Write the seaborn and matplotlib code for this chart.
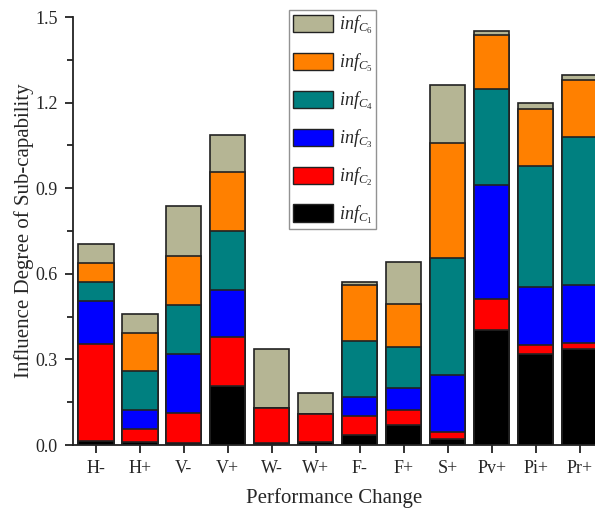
import numpy as np
import pandas as pd
import matplotlib
matplotlib.use("Agg")
import matplotlib.pyplot as plt
import seaborn as sns
from matplotlib.patches import Patch
from matplotlib.ticker import MultipleLocator

# --- DATA ---
categories = ["H-", "H+", "V-", "V+", "W-", "W+", "F-", "F+", "S+", "Pv+", "Pi+", "Pr+"]
inf_c1 = [0.015, 0.011, 0.006, 0.208, 0.006, 0.009, 0.034, 0.071, 0.022, 0.402, 0.320, 0.338]
inf_c2 = [0.340, 0.044, 0.105, 0.171, 0.123, 0.099, 0.068, 0.052, 0.023, 0.108, 0.030, 0.019]
inf_c3 = [0.150, 0.067, 0.208, 0.163, 0.000, 0.000, 0.067, 0.076, 0.201, 0.400, 0.203, 0.203]
inf_c4 = [0.065, 0.137, 0.172, 0.208, 0.000, 0.000, 0.194, 0.145, 0.408, 0.338, 0.425, 0.520]
inf_c5 = [0.068, 0.132, 0.172, 0.207, 0.000, 0.000, 0.199, 0.151, 0.406, 0.190, 0.200, 0.199]
inf_c6 = [0.067, 0.067, 0.174, 0.130, 0.207, 0.074, 0.008, 0.147, 0.202, 0.012, 0.020, 0.019]

series = [inf_c1, inf_c2, inf_c3, inf_c4, inf_c5, inf_c6]
labels = [r"$inf_{C_{\mathit{%d}}}$" % (i + 1) for i in range(6)]
colors = ["#000000", "#FF0000", "#0000FF", "#008080", "#FF8000", "#B5B594"]

# --- STYLE ---
sns.set_style("ticks")
plt.rcParams["font.family"] = ["Liberation Serif", "DejaVu Serif"]
plt.rcParams["mathtext.fontset"] = "custom"
plt.rcParams["mathtext.rm"] = "Liberation Serif"
plt.rcParams["mathtext.it"] = "Liberation Serif:italic"

fig = plt.figure(figsize=(5.95, 5.14), dpi=100)
W, H = 595, 514
ax = fig.add_axes([73 / W, (H - 445) / H, (595 - 73) / W, (445 - 17) / H])

# stacked bars: draw cumulative totals from the top segment down
cum = np.cumsum(np.array(series), axis=0)
for i in range(5, -1, -1):
    df = pd.DataFrame({"cat": categories, "val": cum[i]})
    sns.barplot(data=df, x="cat", y="val", order=categories, color=colors[i],
                width=0.81, edgecolor="#222222", linewidth=1.2, saturation=1,
                errorbar=None, ax=ax)

ax.set_xlim(-0.516, 11.35)
ax.set_ylim(0, 1.5)
ax.yaxis.set_major_locator(MultipleLocator(0.3))
ax.yaxis.set_minor_locator(MultipleLocator(0.15))
ax.set_yticklabels([f"{v:.1f}" for v in ax.get_yticks()])
ax.tick_params(axis="both", which="major", direction="out", length=6, width=1.3,
               labelsize=13, pad=5, color="#222222")
ax.tick_params(axis="y", which="minor", direction="out", length=4, width=1.3, color="#222222")
for s in ["top", "right"]:
    ax.spines[s].set_visible(False)
for s in ["left", "bottom"]:
    ax.spines[s].set_linewidth(1.3)
    ax.spines[s].set_color("#222222")

ax.set_xlabel("Performance Change", fontsize=15, labelpad=8)
ax.set_ylabel("Influence Degree of Sub-capability", fontsize=15, labelpad=1)

handles = [Patch(facecolor=colors[i], edgecolor="#222222", linewidth=1.0, label=labels[i])
           for i in range(5, -1, -1)]
leg = ax.legend(handles=handles, loc="upper left", bbox_to_anchor=(289 / W, 1 - 10 / H),
                bbox_transform=fig.transFigure, fontsize=13, frameon=True, fancybox=False,
                handlelength=2.25, handleheight=1.1, labelspacing=0.85, handletextpad=0.3,
                borderpad=0.2, borderaxespad=0)
leg.get_frame().set_edgecolor("#777777")
leg.get_frame().set_linewidth(1.0)

fig.savefig("out.png", dpi=100)
